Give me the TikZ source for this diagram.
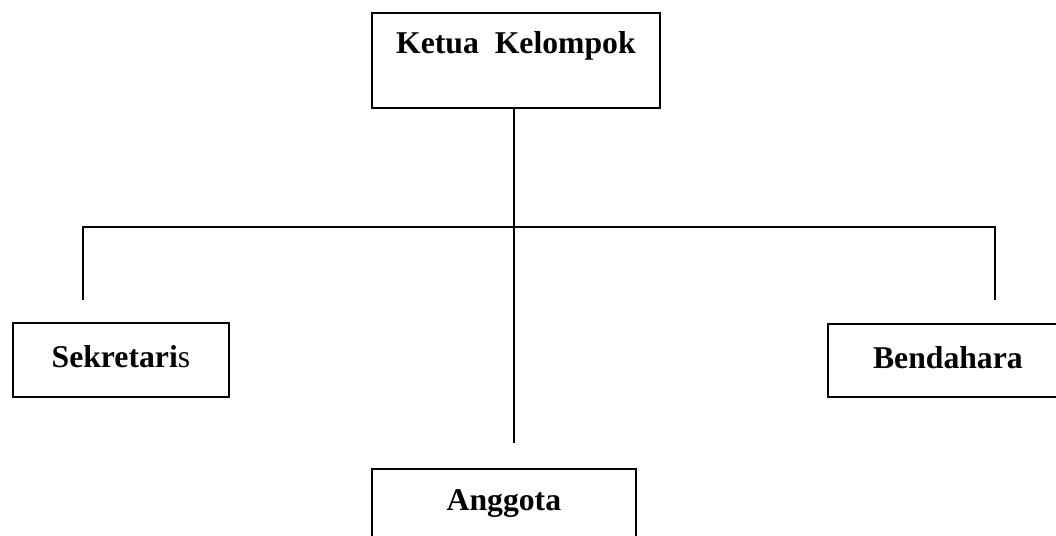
\documentclass[tikz,border=0pt]{standalone}
\usepackage{fontspec}
\setmainfont{Liberation Serif}
\begin{document}
\begin{tikzpicture}[x=1pt,y=-1pt,
  box/.style={draw=black,line width=1.8pt,rectangle,inner sep=0pt,
    font=\fontsize{31.7}{38}\selectfont\bfseries},
  conn/.style={draw=black,line width=1.8pt}]
\clip (0,0) rectangle (1056,535);
\fill[white] (0,0) rectangle (1056,535);
% Nodes
\node[box,minimum width=288pt,text height=41pt,text depth=54pt,anchor=north west] (ketua) at (371,12) {Ketua\ \ Kelompok};
\node[box,minimum width=216pt,text height=45pt,text depth=29pt,anchor=north west] (sekretaris) at (12,322) {Sekretari\mdseries s};
\node[box,minimum width=240pt,text height=45pt,text depth=28pt,anchor=north west] (bendahara) at (827,323) {Bendahara};
\node[box,minimum width=264pt,text height=42pt,text depth=32pt,anchor=north west] (anggota) at (371,468) {Anggota};
% Junction coordinates
\coordinate (jc) at (514,227);
\coordinate (jl) at (83,227);
\coordinate (jr) at (995,227);
\coordinate (el) at (83,300);
\coordinate (er) at (995,300);
\coordinate (ea) at (514,443);
% Connectors
\draw[conn] (ketua.south -| jc) -- (ea);
\draw[conn] (el) -- (jl) -- (jr) -- (er);
\end{tikzpicture}
\end{document}
